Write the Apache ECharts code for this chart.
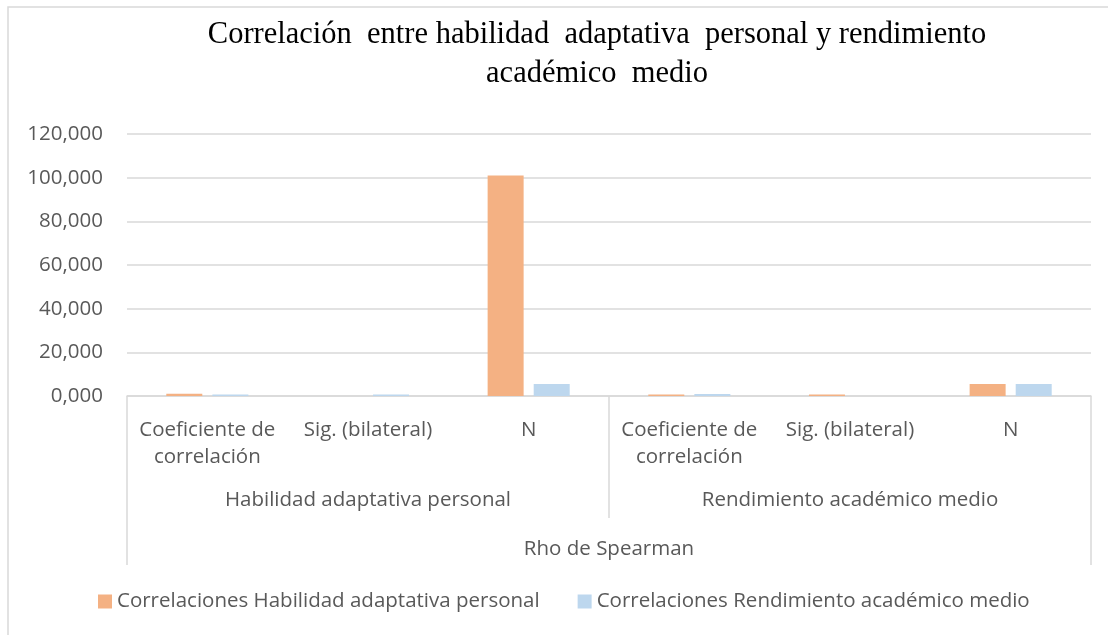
<!DOCTYPE html>
<html>
<head>
<meta charset="utf-8">
<script src="https://cdn.jsdelivr.net/npm/echarts@6/dist/echarts.min.js"></script>
<style>
html, body { margin: 0; padding: 0; background: #fff; }
#chart { width: 1108px; height: 635px; }
</style>
</head>
<body>
<div id="chart"></div>
<script>
// datos
var categorias = ['Coeficiente de\ncorrelación', 'Sig. (bilateral)', 'N',
                  'Coeficiente de\ncorrelación', 'Sig. (bilateral)', 'N'];
var grupos = ['Habilidad adaptativa personal', 'Rendimiento académico medio'];
var grupoSuperior = ['Rho de Spearman'];
var serieNombres = ['Correlaciones Habilidad adaptativa personal', 'Correlaciones Rendimiento académico medio'];
var valoresHabilidad = [1.0, 0, 101, 0.7, 0.7, 5.5];
var valoresRendimiento = [0.7, 0.7, 5.5, 0.9, 0, 5.5];
var colores = ['#F4B183', '#BDD7EE'];

var fuente = 'Open Sans';
var tam = 20.5;
var gris = '#595959';
var lineaGris = '#d9d9d9';

var chart = echarts.init(document.getElementById('chart'));

var option = {
	animation: false,
	backgroundColor: '#fff',
	title: {
		text: 'Correlación  entre habilidad  adaptativa  personal y rendimiento\nacadémico  medio',
		left: 592,
		top: 10,
		textAlign: 'center',
		textStyle: {
			fontFamily: 'Liberation Serif',
			fontSize: 30.5,
			fontWeight: 'normal',
			color: '#000',
			lineHeight: 39
		}
	},
	legend: {
		bottom: 18,
		left: 93,
		itemWidth: 14,
		itemHeight: 14,
		itemGap: 38,
		icon: 'rect',
		textStyle: { fontFamily: fuente, fontSize: tam, color: gris },
		data: serieNombres
	},
	grid: { left: 127, right: 17, top: 134, bottom: 239 },
	graphic: [{
		type: 'rect',
		shape: { x: 8, y: 7, width: 1120, height: 650 },
		style: { fill: null, stroke: lineaGris, lineWidth: 1.5 },
		silent: true
	}],
	xAxis: [{
		type: 'category',
		data: categorias,
		axisLine: { lineStyle: { color: lineaGris, width: 1.5 } },
		axisTick: { show: false },
		axisLabel: {
			interval: 0, margin: 21,
			fontFamily: fuente, fontSize: tam, color: gris, lineHeight: 27
		}
	}, {
		type: 'category',
		data: grupos,
		position: 'bottom',
		axisLine: { show: false },
		axisTick: { show: true, interval: 0, length: 122, lineStyle: { color: lineaGris, width: 1.5 } },
		axisLabel: {
			interval: 0, margin: 92,
			fontFamily: fuente, fontSize: tam, color: gris, lineHeight: 24
		}
	}, {
		type: 'category',
		data: grupoSuperior,
		position: 'bottom',
		axisLine: { show: false },
		axisTick: { show: true, interval: 0, length: 169, lineStyle: { color: lineaGris, width: 1.5 } },
		axisLabel: {
			interval: 0, margin: 141,
			fontFamily: fuente, fontSize: tam, color: gris, lineHeight: 24
		}
	}],
	yAxis: {
		type: 'value',
		min: 0,
		max: 120,
		interval: 20,
		axisLine: { show: false },
		axisTick: { show: false },
		splitLine: { lineStyle: { color: lineaGris, width: 1.5 } },
		axisLabel: {
			margin: 24,
			fontFamily: fuente, fontSize: tam, color: gris,
			formatter: function(v) { return v.toFixed(3).replace('.', ','); }
		}
	},
	series: [{
		name: serieNombres[0],
		type: 'bar',
		xAxisIndex: 0,
		data: valoresHabilidad,
		barWidth: 36,
		barGap: '28%',
		itemStyle: { color: colores[0] }
	}, {
		name: serieNombres[1],
		type: 'bar',
		xAxisIndex: 0,
		data: valoresRendimiento,
		barWidth: 36,
		barGap: '28%',
		itemStyle: { color: colores[1] }
	}]
};

chart.setOption(option);
</script>
</body>
</html>
